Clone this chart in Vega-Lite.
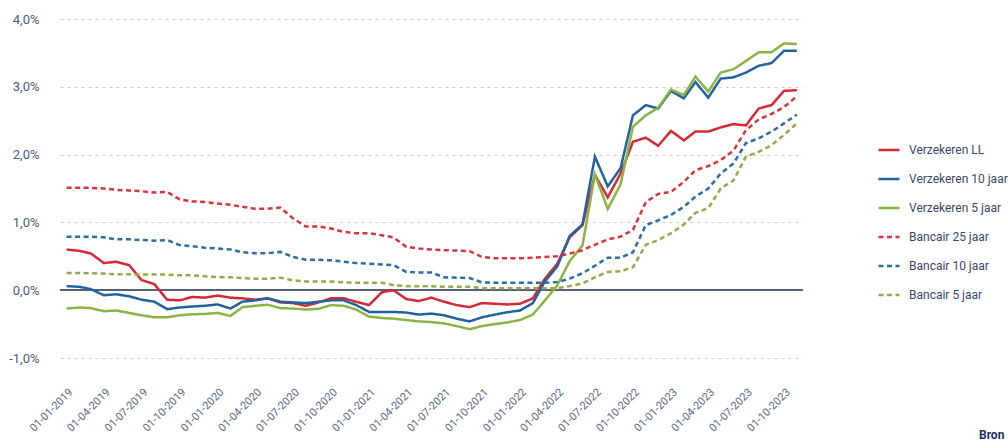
{
  "$schema": "https://vega.github.io/schema/vega-lite/v6.json",
  "width": 743,
  "height": 339,
  "autosize": {"type": "none"},
  "padding": {"left": 60, "top": 19, "right": 205, "bottom": 86},
  "background": "#ffffff",
  "config": {
    "view": {"stroke": null},
    "font": "Roboto",
    "locale": {"number": {"decimal": ",", "thousands": ".", "grouping": [3], "currency": ["€", ""], "minus": "-"}}
  },
  "title": {"text": "Bron", "orient": "bottom", "anchor": "end", "frame": "group", "align": "left", "baseline": "top", "dx": 176, "dy": -3, "offset": 0, "fontSize": 12, "fontWeight": "bold", "color": "#1d2e5e", "font": "Roboto"},
  "data": {"values": [
    {"date":"2019-01-01","serie":"Verzekeren LL","rente":0.60},{"date":"2019-02-01","serie":"Verzekeren LL","rente":0.58},{"date":"2019-03-01","serie":"Verzekeren LL","rente":0.54},{"date":"2019-04-01","serie":"Verzekeren LL","rente":0.40},{"date":"2019-05-01","serie":"Verzekeren LL","rente":0.42},{"date":"2019-06-01","serie":"Verzekeren LL","rente":0.37},{"date":"2019-07-01","serie":"Verzekeren LL","rente":0.15},{"date":"2019-08-01","serie":"Verzekeren LL","rente":0.09},{"date":"2019-09-01","serie":"Verzekeren LL","rente":-0.14},{"date":"2019-10-01","serie":"Verzekeren LL","rente":-0.15},{"date":"2019-11-01","serie":"Verzekeren LL","rente":-0.10},{"date":"2019-12-01","serie":"Verzekeren LL","rente":-0.11},
    {"date":"2020-01-01","serie":"Verzekeren LL","rente":-0.08},{"date":"2020-02-01","serie":"Verzekeren LL","rente":-0.11},{"date":"2020-03-01","serie":"Verzekeren LL","rente":-0.12},{"date":"2020-04-01","serie":"Verzekeren LL","rente":-0.14},{"date":"2020-05-01","serie":"Verzekeren LL","rente":-0.12},{"date":"2020-06-01","serie":"Verzekeren LL","rente":-0.18},{"date":"2020-07-01","serie":"Verzekeren LL","rente":-0.19},{"date":"2020-08-01","serie":"Verzekeren LL","rente":-0.23},{"date":"2020-09-01","serie":"Verzekeren LL","rente":-0.18},{"date":"2020-10-01","serie":"Verzekeren LL","rente":-0.12},{"date":"2020-11-01","serie":"Verzekeren LL","rente":-0.12},{"date":"2020-12-01","serie":"Verzekeren LL","rente":-0.17},
    {"date":"2021-01-01","serie":"Verzekeren LL","rente":-0.22},{"date":"2021-02-01","serie":"Verzekeren LL","rente":-0.03},{"date":"2021-03-01","serie":"Verzekeren LL","rente":0.00},{"date":"2021-04-01","serie":"Verzekeren LL","rente":-0.13},{"date":"2021-05-01","serie":"Verzekeren LL","rente":-0.16},{"date":"2021-06-01","serie":"Verzekeren LL","rente":-0.11},{"date":"2021-07-01","serie":"Verzekeren LL","rente":-0.17},{"date":"2021-08-01","serie":"Verzekeren LL","rente":-0.22},{"date":"2021-09-01","serie":"Verzekeren LL","rente":-0.25},{"date":"2021-10-01","serie":"Verzekeren LL","rente":-0.19},{"date":"2021-11-01","serie":"Verzekeren LL","rente":-0.20},{"date":"2021-12-01","serie":"Verzekeren LL","rente":-0.21},
    {"date":"2022-01-01","serie":"Verzekeren LL","rente":-0.20},{"date":"2022-02-01","serie":"Verzekeren LL","rente":-0.12},{"date":"2022-03-01","serie":"Verzekeren LL","rente":0.16},{"date":"2022-04-01","serie":"Verzekeren LL","rente":0.39},{"date":"2022-05-01","serie":"Verzekeren LL","rente":0.78},{"date":"2022-06-01","serie":"Verzekeren LL","rente":0.96},{"date":"2022-07-01","serie":"Verzekeren LL","rente":1.70},{"date":"2022-08-01","serie":"Verzekeren LL","rente":1.37},{"date":"2022-09-01","serie":"Verzekeren LL","rente":1.72},{"date":"2022-10-01","serie":"Verzekeren LL","rente":2.19},{"date":"2022-11-01","serie":"Verzekeren LL","rente":2.25},{"date":"2022-12-01","serie":"Verzekeren LL","rente":2.13},
    {"date":"2023-01-01","serie":"Verzekeren LL","rente":2.35},{"date":"2023-02-01","serie":"Verzekeren LL","rente":2.21},{"date":"2023-03-01","serie":"Verzekeren LL","rente":2.34},{"date":"2023-04-01","serie":"Verzekeren LL","rente":2.34},{"date":"2023-05-01","serie":"Verzekeren LL","rente":2.40},{"date":"2023-06-01","serie":"Verzekeren LL","rente":2.45},{"date":"2023-07-01","serie":"Verzekeren LL","rente":2.43},{"date":"2023-08-01","serie":"Verzekeren LL","rente":2.68},{"date":"2023-09-01","serie":"Verzekeren LL","rente":2.73},{"date":"2023-10-01","serie":"Verzekeren LL","rente":2.94},{"date":"2023-11-01","serie":"Verzekeren LL","rente":2.95},

    {"date":"2019-01-01","serie":"Verzekeren 10 jaar","rente":0.06},{"date":"2019-02-01","serie":"Verzekeren 10 jaar","rente":0.05},{"date":"2019-03-01","serie":"Verzekeren 10 jaar","rente":0.015},{"date":"2019-04-01","serie":"Verzekeren 10 jaar","rente":-0.075},{"date":"2019-05-01","serie":"Verzekeren 10 jaar","rente":-0.06},{"date":"2019-06-01","serie":"Verzekeren 10 jaar","rente":-0.09},{"date":"2019-07-01","serie":"Verzekeren 10 jaar","rente":-0.14},{"date":"2019-08-01","serie":"Verzekeren 10 jaar","rente":-0.17},{"date":"2019-09-01","serie":"Verzekeren 10 jaar","rente":-0.28},{"date":"2019-10-01","serie":"Verzekeren 10 jaar","rente":-0.255},{"date":"2019-11-01","serie":"Verzekeren 10 jaar","rente":-0.24},{"date":"2019-12-01","serie":"Verzekeren 10 jaar","rente":-0.23},
    {"date":"2020-01-01","serie":"Verzekeren 10 jaar","rente":-0.21},{"date":"2020-02-01","serie":"Verzekeren 10 jaar","rente":-0.27},{"date":"2020-03-01","serie":"Verzekeren 10 jaar","rente":-0.17},{"date":"2020-04-01","serie":"Verzekeren 10 jaar","rente":-0.15},{"date":"2020-05-01","serie":"Verzekeren 10 jaar","rente":-0.12},{"date":"2020-06-01","serie":"Verzekeren 10 jaar","rente":-0.17},{"date":"2020-07-01","serie":"Verzekeren 10 jaar","rente":-0.18},{"date":"2020-08-01","serie":"Verzekeren 10 jaar","rente":-0.19},{"date":"2020-09-01","serie":"Verzekeren 10 jaar","rente":-0.17},{"date":"2020-10-01","serie":"Verzekeren 10 jaar","rente":-0.15},{"date":"2020-11-01","serie":"Verzekeren 10 jaar","rente":-0.15},{"date":"2020-12-01","serie":"Verzekeren 10 jaar","rente":-0.22},
    {"date":"2021-01-01","serie":"Verzekeren 10 jaar","rente":-0.32},{"date":"2021-02-01","serie":"Verzekeren 10 jaar","rente":-0.32},{"date":"2021-03-01","serie":"Verzekeren 10 jaar","rente":-0.32},{"date":"2021-04-01","serie":"Verzekeren 10 jaar","rente":-0.33},{"date":"2021-05-01","serie":"Verzekeren 10 jaar","rente":-0.36},{"date":"2021-06-01","serie":"Verzekeren 10 jaar","rente":-0.345},{"date":"2021-07-01","serie":"Verzekeren 10 jaar","rente":-0.37},{"date":"2021-08-01","serie":"Verzekeren 10 jaar","rente":-0.42},{"date":"2021-09-01","serie":"Verzekeren 10 jaar","rente":-0.46},{"date":"2021-10-01","serie":"Verzekeren 10 jaar","rente":-0.40},{"date":"2021-11-01","serie":"Verzekeren 10 jaar","rente":-0.36},{"date":"2021-12-01","serie":"Verzekeren 10 jaar","rente":-0.325},
    {"date":"2022-01-01","serie":"Verzekeren 10 jaar","rente":-0.30},{"date":"2022-02-01","serie":"Verzekeren 10 jaar","rente":-0.19},{"date":"2022-03-01","serie":"Verzekeren 10 jaar","rente":0.12},{"date":"2022-04-01","serie":"Verzekeren 10 jaar","rente":0.35},{"date":"2022-05-01","serie":"Verzekeren 10 jaar","rente":0.80},{"date":"2022-06-01","serie":"Verzekeren 10 jaar","rente":0.97},{"date":"2022-07-01","serie":"Verzekeren 10 jaar","rente":1.97},{"date":"2022-08-01","serie":"Verzekeren 10 jaar","rente":1.53},{"date":"2022-09-01","serie":"Verzekeren 10 jaar","rente":1.80},{"date":"2022-10-01","serie":"Verzekeren 10 jaar","rente":2.58},{"date":"2022-11-01","serie":"Verzekeren 10 jaar","rente":2.73},{"date":"2022-12-01","serie":"Verzekeren 10 jaar","rente":2.68},
    {"date":"2023-01-01","serie":"Verzekeren 10 jaar","rente":2.94},{"date":"2023-02-01","serie":"Verzekeren 10 jaar","rente":2.83},{"date":"2023-03-01","serie":"Verzekeren 10 jaar","rente":3.07},{"date":"2023-04-01","serie":"Verzekeren 10 jaar","rente":2.84},{"date":"2023-05-01","serie":"Verzekeren 10 jaar","rente":3.12},{"date":"2023-06-01","serie":"Verzekeren 10 jaar","rente":3.14},{"date":"2023-07-01","serie":"Verzekeren 10 jaar","rente":3.21},{"date":"2023-08-01","serie":"Verzekeren 10 jaar","rente":3.31},{"date":"2023-09-01","serie":"Verzekeren 10 jaar","rente":3.35},{"date":"2023-10-01","serie":"Verzekeren 10 jaar","rente":3.53},{"date":"2023-11-01","serie":"Verzekeren 10 jaar","rente":3.53},

    {"date":"2019-01-01","serie":"Verzekeren 5 jaar","rente":-0.27},{"date":"2019-02-01","serie":"Verzekeren 5 jaar","rente":-0.255},{"date":"2019-03-01","serie":"Verzekeren 5 jaar","rente":-0.265},{"date":"2019-04-01","serie":"Verzekeren 5 jaar","rente":-0.31},{"date":"2019-05-01","serie":"Verzekeren 5 jaar","rente":-0.30},{"date":"2019-06-01","serie":"Verzekeren 5 jaar","rente":-0.335},{"date":"2019-07-01","serie":"Verzekeren 5 jaar","rente":-0.37},{"date":"2019-08-01","serie":"Verzekeren 5 jaar","rente":-0.40},{"date":"2019-09-01","serie":"Verzekeren 5 jaar","rente":-0.40},{"date":"2019-10-01","serie":"Verzekeren 5 jaar","rente":-0.37},{"date":"2019-11-01","serie":"Verzekeren 5 jaar","rente":-0.355},{"date":"2019-12-01","serie":"Verzekeren 5 jaar","rente":-0.35},
    {"date":"2020-01-01","serie":"Verzekeren 5 jaar","rente":-0.335},{"date":"2020-02-01","serie":"Verzekeren 5 jaar","rente":-0.38},{"date":"2020-03-01","serie":"Verzekeren 5 jaar","rente":-0.25},{"date":"2020-04-01","serie":"Verzekeren 5 jaar","rente":-0.23},{"date":"2020-05-01","serie":"Verzekeren 5 jaar","rente":-0.215},{"date":"2020-06-01","serie":"Verzekeren 5 jaar","rente":-0.265},{"date":"2020-07-01","serie":"Verzekeren 5 jaar","rente":-0.27},{"date":"2020-08-01","serie":"Verzekeren 5 jaar","rente":-0.285},{"date":"2020-09-01","serie":"Verzekeren 5 jaar","rente":-0.275},{"date":"2020-10-01","serie":"Verzekeren 5 jaar","rente":-0.22},{"date":"2020-11-01","serie":"Verzekeren 5 jaar","rente":-0.23},{"date":"2020-12-01","serie":"Verzekeren 5 jaar","rente":-0.285},
    {"date":"2021-01-01","serie":"Verzekeren 5 jaar","rente":-0.39},{"date":"2021-02-01","serie":"Verzekeren 5 jaar","rente":-0.41},{"date":"2021-03-01","serie":"Verzekeren 5 jaar","rente":-0.42},{"date":"2021-04-01","serie":"Verzekeren 5 jaar","rente":-0.44},{"date":"2021-05-01","serie":"Verzekeren 5 jaar","rente":-0.46},{"date":"2021-06-01","serie":"Verzekeren 5 jaar","rente":-0.47},{"date":"2021-07-01","serie":"Verzekeren 5 jaar","rente":-0.49},{"date":"2021-08-01","serie":"Verzekeren 5 jaar","rente":-0.53},{"date":"2021-09-01","serie":"Verzekeren 5 jaar","rente":-0.575},{"date":"2021-10-01","serie":"Verzekeren 5 jaar","rente":-0.53},{"date":"2021-11-01","serie":"Verzekeren 5 jaar","rente":-0.50},{"date":"2021-12-01","serie":"Verzekeren 5 jaar","rente":-0.475},
    {"date":"2022-01-01","serie":"Verzekeren 5 jaar","rente":-0.44},{"date":"2022-02-01","serie":"Verzekeren 5 jaar","rente":-0.36},{"date":"2022-03-01","serie":"Verzekeren 5 jaar","rente":-0.16},{"date":"2022-04-01","serie":"Verzekeren 5 jaar","rente":0.07},{"date":"2022-05-01","serie":"Verzekeren 5 jaar","rente":0.43},{"date":"2022-06-01","serie":"Verzekeren 5 jaar","rente":0.66},{"date":"2022-07-01","serie":"Verzekeren 5 jaar","rente":1.71},{"date":"2022-08-01","serie":"Verzekeren 5 jaar","rente":1.20},{"date":"2022-09-01","serie":"Verzekeren 5 jaar","rente":1.56},{"date":"2022-10-01","serie":"Verzekeren 5 jaar","rente":2.41},{"date":"2022-11-01","serie":"Verzekeren 5 jaar","rente":2.58},{"date":"2022-12-01","serie":"Verzekeren 5 jaar","rente":2.69},
    {"date":"2023-01-01","serie":"Verzekeren 5 jaar","rente":2.96},{"date":"2023-02-01","serie":"Verzekeren 5 jaar","rente":2.88},{"date":"2023-03-01","serie":"Verzekeren 5 jaar","rente":3.15},{"date":"2023-04-01","serie":"Verzekeren 5 jaar","rente":2.93},{"date":"2023-05-01","serie":"Verzekeren 5 jaar","rente":3.21},{"date":"2023-06-01","serie":"Verzekeren 5 jaar","rente":3.26},{"date":"2023-07-01","serie":"Verzekeren 5 jaar","rente":3.38},{"date":"2023-08-01","serie":"Verzekeren 5 jaar","rente":3.51},{"date":"2023-09-01","serie":"Verzekeren 5 jaar","rente":3.51},{"date":"2023-10-01","serie":"Verzekeren 5 jaar","rente":3.64},{"date":"2023-11-01","serie":"Verzekeren 5 jaar","rente":3.63},

    {"date":"2019-01-01","serie":"Bancair 25 jaar","rente":1.51},{"date":"2019-02-01","serie":"Bancair 25 jaar","rente":1.51},{"date":"2019-03-01","serie":"Bancair 25 jaar","rente":1.51},{"date":"2019-04-01","serie":"Bancair 25 jaar","rente":1.50},{"date":"2019-05-01","serie":"Bancair 25 jaar","rente":1.48},{"date":"2019-06-01","serie":"Bancair 25 jaar","rente":1.47},{"date":"2019-07-01","serie":"Bancair 25 jaar","rente":1.46},{"date":"2019-08-01","serie":"Bancair 25 jaar","rente":1.44},{"date":"2019-09-01","serie":"Bancair 25 jaar","rente":1.45},{"date":"2019-10-01","serie":"Bancair 25 jaar","rente":1.34},{"date":"2019-11-01","serie":"Bancair 25 jaar","rente":1.31},{"date":"2019-12-01","serie":"Bancair 25 jaar","rente":1.30},
    {"date":"2020-01-01","serie":"Bancair 25 jaar","rente":1.28},{"date":"2020-02-01","serie":"Bancair 25 jaar","rente":1.26},{"date":"2020-03-01","serie":"Bancair 25 jaar","rente":1.23},{"date":"2020-04-01","serie":"Bancair 25 jaar","rente":1.20},{"date":"2020-05-01","serie":"Bancair 25 jaar","rente":1.20},{"date":"2020-06-01","serie":"Bancair 25 jaar","rente":1.22},{"date":"2020-07-01","serie":"Bancair 25 jaar","rente":1.06},{"date":"2020-08-01","serie":"Bancair 25 jaar","rente":0.94},{"date":"2020-09-01","serie":"Bancair 25 jaar","rente":0.94},{"date":"2020-10-01","serie":"Bancair 25 jaar","rente":0.91},{"date":"2020-11-01","serie":"Bancair 25 jaar","rente":0.86},{"date":"2020-12-01","serie":"Bancair 25 jaar","rente":0.84},
    {"date":"2021-01-01","serie":"Bancair 25 jaar","rente":0.84},{"date":"2021-02-01","serie":"Bancair 25 jaar","rente":0.81},{"date":"2021-03-01","serie":"Bancair 25 jaar","rente":0.78},{"date":"2021-04-01","serie":"Bancair 25 jaar","rente":0.64},{"date":"2021-05-01","serie":"Bancair 25 jaar","rente":0.615},{"date":"2021-06-01","serie":"Bancair 25 jaar","rente":0.60},{"date":"2021-07-01","serie":"Bancair 25 jaar","rente":0.59},{"date":"2021-08-01","serie":"Bancair 25 jaar","rente":0.585},{"date":"2021-09-01","serie":"Bancair 25 jaar","rente":0.575},{"date":"2021-10-01","serie":"Bancair 25 jaar","rente":0.49},{"date":"2021-11-01","serie":"Bancair 25 jaar","rente":0.47},{"date":"2021-12-01","serie":"Bancair 25 jaar","rente":0.47},
    {"date":"2022-01-01","serie":"Bancair 25 jaar","rente":0.47},{"date":"2022-02-01","serie":"Bancair 25 jaar","rente":0.48},{"date":"2022-03-01","serie":"Bancair 25 jaar","rente":0.49},{"date":"2022-04-01","serie":"Bancair 25 jaar","rente":0.50},{"date":"2022-05-01","serie":"Bancair 25 jaar","rente":0.54},{"date":"2022-06-01","serie":"Bancair 25 jaar","rente":0.59},{"date":"2022-07-01","serie":"Bancair 25 jaar","rente":0.67},{"date":"2022-08-01","serie":"Bancair 25 jaar","rente":0.75},{"date":"2022-09-01","serie":"Bancair 25 jaar","rente":0.79},{"date":"2022-10-01","serie":"Bancair 25 jaar","rente":0.89},{"date":"2022-11-01","serie":"Bancair 25 jaar","rente":1.30},{"date":"2022-12-01","serie":"Bancair 25 jaar","rente":1.42},
    {"date":"2023-01-01","serie":"Bancair 25 jaar","rente":1.45},{"date":"2023-02-01","serie":"Bancair 25 jaar","rente":1.60},{"date":"2023-03-01","serie":"Bancair 25 jaar","rente":1.77},{"date":"2023-04-01","serie":"Bancair 25 jaar","rente":1.83},{"date":"2023-05-01","serie":"Bancair 25 jaar","rente":1.92},{"date":"2023-06-01","serie":"Bancair 25 jaar","rente":2.06},{"date":"2023-07-01","serie":"Bancair 25 jaar","rente":2.36},{"date":"2023-08-01","serie":"Bancair 25 jaar","rente":2.52},{"date":"2023-09-01","serie":"Bancair 25 jaar","rente":2.60},{"date":"2023-10-01","serie":"Bancair 25 jaar","rente":2.70},{"date":"2023-11-01","serie":"Bancair 25 jaar","rente":2.86},

    {"date":"2019-01-01","serie":"Bancair 10 jaar","rente":0.79},{"date":"2019-02-01","serie":"Bancair 10 jaar","rente":0.79},{"date":"2019-03-01","serie":"Bancair 10 jaar","rente":0.79},{"date":"2019-04-01","serie":"Bancair 10 jaar","rente":0.78},{"date":"2019-05-01","serie":"Bancair 10 jaar","rente":0.75},{"date":"2019-06-01","serie":"Bancair 10 jaar","rente":0.75},{"date":"2019-07-01","serie":"Bancair 10 jaar","rente":0.74},{"date":"2019-08-01","serie":"Bancair 10 jaar","rente":0.73},{"date":"2019-09-01","serie":"Bancair 10 jaar","rente":0.74},{"date":"2019-10-01","serie":"Bancair 10 jaar","rente":0.665},{"date":"2019-11-01","serie":"Bancair 10 jaar","rente":0.65},{"date":"2019-12-01","serie":"Bancair 10 jaar","rente":0.625},
    {"date":"2020-01-01","serie":"Bancair 10 jaar","rente":0.615},{"date":"2020-02-01","serie":"Bancair 10 jaar","rente":0.60},{"date":"2020-03-01","serie":"Bancair 10 jaar","rente":0.56},{"date":"2020-04-01","serie":"Bancair 10 jaar","rente":0.545},{"date":"2020-05-01","serie":"Bancair 10 jaar","rente":0.545},{"date":"2020-06-01","serie":"Bancair 10 jaar","rente":0.565},{"date":"2020-07-01","serie":"Bancair 10 jaar","rente":0.49},{"date":"2020-08-01","serie":"Bancair 10 jaar","rente":0.45},{"date":"2020-09-01","serie":"Bancair 10 jaar","rente":0.45},{"date":"2020-10-01","serie":"Bancair 10 jaar","rente":0.44},{"date":"2020-11-01","serie":"Bancair 10 jaar","rente":0.42},{"date":"2020-12-01","serie":"Bancair 10 jaar","rente":0.40},
    {"date":"2021-01-01","serie":"Bancair 10 jaar","rente":0.39},{"date":"2021-02-01","serie":"Bancair 10 jaar","rente":0.38},{"date":"2021-03-01","serie":"Bancair 10 jaar","rente":0.37},{"date":"2021-04-01","serie":"Bancair 10 jaar","rente":0.27},{"date":"2021-05-01","serie":"Bancair 10 jaar","rente":0.26},{"date":"2021-06-01","serie":"Bancair 10 jaar","rente":0.26},{"date":"2021-07-01","serie":"Bancair 10 jaar","rente":0.19},{"date":"2021-08-01","serie":"Bancair 10 jaar","rente":0.185},{"date":"2021-09-01","serie":"Bancair 10 jaar","rente":0.18},{"date":"2021-10-01","serie":"Bancair 10 jaar","rente":0.115},{"date":"2021-11-01","serie":"Bancair 10 jaar","rente":0.11},{"date":"2021-12-01","serie":"Bancair 10 jaar","rente":0.11},
    {"date":"2022-01-01","serie":"Bancair 10 jaar","rente":0.11},{"date":"2022-02-01","serie":"Bancair 10 jaar","rente":0.11},{"date":"2022-03-01","serie":"Bancair 10 jaar","rente":0.11},{"date":"2022-04-01","serie":"Bancair 10 jaar","rente":0.12},{"date":"2022-05-01","serie":"Bancair 10 jaar","rente":0.17},{"date":"2022-06-01","serie":"Bancair 10 jaar","rente":0.25},{"date":"2022-07-01","serie":"Bancair 10 jaar","rente":0.36},{"date":"2022-08-01","serie":"Bancair 10 jaar","rente":0.48},{"date":"2022-09-01","serie":"Bancair 10 jaar","rente":0.48},{"date":"2022-10-01","serie":"Bancair 10 jaar","rente":0.56},{"date":"2022-11-01","serie":"Bancair 10 jaar","rente":0.96},{"date":"2022-12-01","serie":"Bancair 10 jaar","rente":1.03},
    {"date":"2023-01-01","serie":"Bancair 10 jaar","rente":1.11},{"date":"2023-02-01","serie":"Bancair 10 jaar","rente":1.23},{"date":"2023-03-01","serie":"Bancair 10 jaar","rente":1.38},{"date":"2023-04-01","serie":"Bancair 10 jaar","rente":1.50},{"date":"2023-05-01","serie":"Bancair 10 jaar","rente":1.72},{"date":"2023-06-01","serie":"Bancair 10 jaar","rente":1.87},{"date":"2023-07-01","serie":"Bancair 10 jaar","rente":2.17},{"date":"2023-08-01","serie":"Bancair 10 jaar","rente":2.24},{"date":"2023-09-01","serie":"Bancair 10 jaar","rente":2.34},{"date":"2023-10-01","serie":"Bancair 10 jaar","rente":2.46},{"date":"2023-11-01","serie":"Bancair 10 jaar","rente":2.59},

    {"date":"2019-01-01","serie":"Bancair 5 jaar","rente":0.255},{"date":"2019-02-01","serie":"Bancair 5 jaar","rente":0.255},{"date":"2019-03-01","serie":"Bancair 5 jaar","rente":0.25},{"date":"2019-04-01","serie":"Bancair 5 jaar","rente":0.245},{"date":"2019-05-01","serie":"Bancair 5 jaar","rente":0.235},{"date":"2019-06-01","serie":"Bancair 5 jaar","rente":0.235},{"date":"2019-07-01","serie":"Bancair 5 jaar","rente":0.23},{"date":"2019-08-01","serie":"Bancair 5 jaar","rente":0.23},{"date":"2019-09-01","serie":"Bancair 5 jaar","rente":0.23},{"date":"2019-10-01","serie":"Bancair 5 jaar","rente":0.22},{"date":"2019-11-01","serie":"Bancair 5 jaar","rente":0.22},{"date":"2019-12-01","serie":"Bancair 5 jaar","rente":0.205},
    {"date":"2020-01-01","serie":"Bancair 5 jaar","rente":0.195},{"date":"2020-02-01","serie":"Bancair 5 jaar","rente":0.19},{"date":"2020-03-01","serie":"Bancair 5 jaar","rente":0.18},{"date":"2020-04-01","serie":"Bancair 5 jaar","rente":0.17},{"date":"2020-05-01","serie":"Bancair 5 jaar","rente":0.17},{"date":"2020-06-01","serie":"Bancair 5 jaar","rente":0.185},{"date":"2020-07-01","serie":"Bancair 5 jaar","rente":0.145},{"date":"2020-08-01","serie":"Bancair 5 jaar","rente":0.13},{"date":"2020-09-01","serie":"Bancair 5 jaar","rente":0.13},{"date":"2020-10-01","serie":"Bancair 5 jaar","rente":0.13},{"date":"2020-11-01","serie":"Bancair 5 jaar","rente":0.115},{"date":"2020-12-01","serie":"Bancair 5 jaar","rente":0.11},
    {"date":"2021-01-01","serie":"Bancair 5 jaar","rente":0.11},{"date":"2021-02-01","serie":"Bancair 5 jaar","rente":0.11},{"date":"2021-03-01","serie":"Bancair 5 jaar","rente":0.075},{"date":"2021-04-01","serie":"Bancair 5 jaar","rente":0.06},{"date":"2021-05-01","serie":"Bancair 5 jaar","rente":0.06},{"date":"2021-06-01","serie":"Bancair 5 jaar","rente":0.06},{"date":"2021-07-01","serie":"Bancair 5 jaar","rente":0.05},{"date":"2021-08-01","serie":"Bancair 5 jaar","rente":0.05},{"date":"2021-09-01","serie":"Bancair 5 jaar","rente":0.05},{"date":"2021-10-01","serie":"Bancair 5 jaar","rente":0.03},{"date":"2021-11-01","serie":"Bancair 5 jaar","rente":0.03},{"date":"2021-12-01","serie":"Bancair 5 jaar","rente":0.03},
    {"date":"2022-01-01","serie":"Bancair 5 jaar","rente":0.03},{"date":"2022-02-01","serie":"Bancair 5 jaar","rente":0.03},{"date":"2022-03-01","serie":"Bancair 5 jaar","rente":0.03},{"date":"2022-04-01","serie":"Bancair 5 jaar","rente":0.03},{"date":"2022-05-01","serie":"Bancair 5 jaar","rente":0.06},{"date":"2022-06-01","serie":"Bancair 5 jaar","rente":0.10},{"date":"2022-07-01","serie":"Bancair 5 jaar","rente":0.19},{"date":"2022-08-01","serie":"Bancair 5 jaar","rente":0.27},{"date":"2022-09-01","serie":"Bancair 5 jaar","rente":0.28},{"date":"2022-10-01","serie":"Bancair 5 jaar","rente":0.34},{"date":"2022-11-01","serie":"Bancair 5 jaar","rente":0.67},{"date":"2022-12-01","serie":"Bancair 5 jaar","rente":0.74},
    {"date":"2023-01-01","serie":"Bancair 5 jaar","rente":0.84},{"date":"2023-02-01","serie":"Bancair 5 jaar","rente":0.97},{"date":"2023-03-01","serie":"Bancair 5 jaar","rente":1.14},{"date":"2023-04-01","serie":"Bancair 5 jaar","rente":1.21},{"date":"2023-05-01","serie":"Bancair 5 jaar","rente":1.50},{"date":"2023-06-01","serie":"Bancair 5 jaar","rente":1.62},{"date":"2023-07-01","serie":"Bancair 5 jaar","rente":1.97},{"date":"2023-08-01","serie":"Bancair 5 jaar","rente":2.04},{"date":"2023-09-01","serie":"Bancair 5 jaar","rente":2.14},{"date":"2023-10-01","serie":"Bancair 5 jaar","rente":2.29},{"date":"2023-11-01","serie":"Bancair 5 jaar","rente":2.46}
  ]},
  "layer": [
    {
      "mark": {"type": "rule", "color": "#56607a", "strokeWidth": 1.5},
      "encoding": {"y": {"datum": 0, "type": "quantitative", "scale": {"domain": [-1, 4]}}}
    },
    {
      "mark": {"type": "line", "strokeWidth": 2.5, "interpolate": "linear"},
      "encoding": {
        "x": {
          "field": "date", "type": "temporal",
          "scale": {"type": "utc", "domain": [{"year": 2018, "month": 12, "date": 16, "utc": true}, {"year": 2023, "month": 11, "date": 16, "utc": true}]},
          "axis": {
            "title": null, "format": "%d-%m-%Y", "tickCount": {"interval": "month", "step": 3},
            "labelAngle": -45, "labelFontSize": 11, "labelColor": "#5b6885", "labelPadding": 28,
            "labelOverlap": false, "ticks": false, "domain": false, "grid": false, "labelFont": "Roboto"
          }
        },
        "y": {
          "field": "rente", "type": "quantitative",
          "scale": {"domain": [-1, 4], "nice": false, "zero": false},
          "axis": {
            "title": null, "values": [-1, -0.5, 0, 0.5, 1, 1.5, 2, 2.5, 3, 3.5, 4],
            "labelExpr": "format(datum.value, '.1f') + '%'",
            "labelFontSize": 13, "labelColor": "#4f5b78", "labelPadding": 21, "labelFont": "Roboto",
            "ticks": false, "domain": false, "grid": true, "gridColor": "#cccccc", "gridDash": [3, 4], "gridWidth": 1
          }
        },
        "color": {
          "field": "serie", "type": "nominal",
          "scale": {
            "domain": ["Verzekeren LL", "Verzekeren 10 jaar", "Verzekeren 5 jaar", "Bancair 25 jaar", "Bancair 10 jaar", "Bancair 5 jaar"],
            "range": ["#d52a34", "#24629f", "#8bb446", "#d6343e", "#2d6da6", "#98a64c"]
          },
          "legend": {
            "title": null, "orient": "none", "legendX": 817, "legendY": 119,
            "symbolType": "stroke", "symbolSize": 441, "symbolStrokeWidth": 2.5,
            "labelFontSize": 12, "labelColor": "#3a4767", "labelOffset": 8, "rowPadding": 11,
            "labelFont": "Roboto", "labelLimit": 200
          }
        },
        "strokeDash": {
          "field": "serie", "type": "nominal",
          "scale": {
            "domain": ["Verzekeren LL", "Verzekeren 10 jaar", "Verzekeren 5 jaar", "Bancair 25 jaar", "Bancair 10 jaar", "Bancair 5 jaar"],
            "range": [[1, 0], [1, 0], [1, 0], [5, 3.5], [5, 3.5], [5, 3.5]]
          },
          "legend": {
            "title": null, "orient": "none", "legendX": 817, "legendY": 119,
            "symbolType": "stroke", "symbolSize": 441, "symbolStrokeWidth": 2.5,
            "labelFontSize": 12, "labelColor": "#3a4767", "labelOffset": 8, "rowPadding": 11,
            "labelFont": "Roboto", "labelLimit": 200
          }
        }
      }
    }
  ]
}
